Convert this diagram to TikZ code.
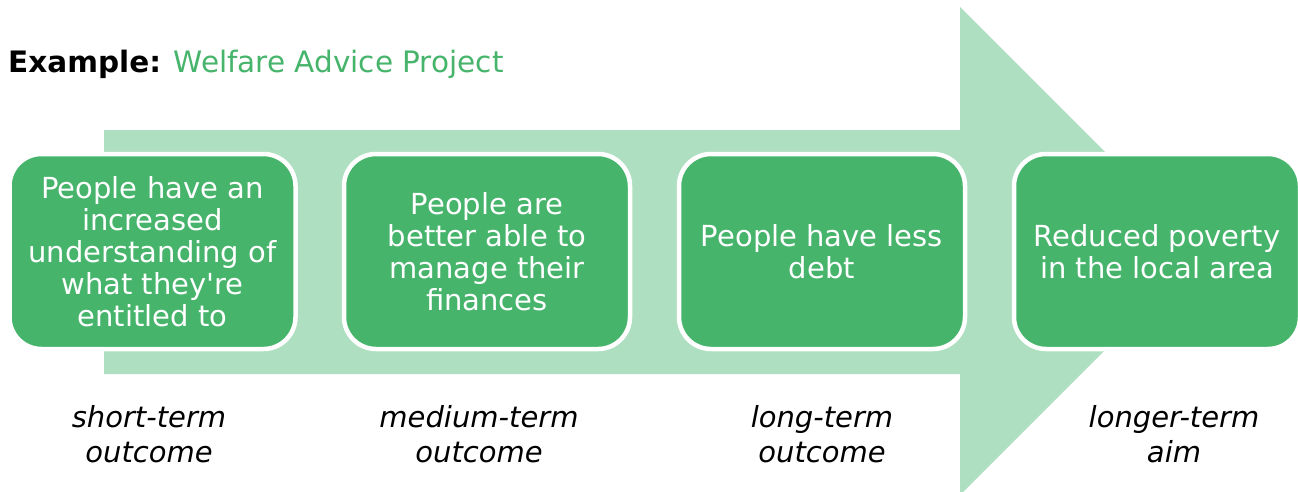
\documentclass[tikz,border=0pt]{standalone}
\usepackage{fontspec}
\setmainfont{DejaVu Sans}
\definecolor{arrowgreen}{RGB}{174,223,192}
\definecolor{boxgreen}{RGB}{71,180,108}
\begin{document}
\begin{tikzpicture}[x=1pt,y=-1pt,
  outbox/.style={rectangle, rounded corners=32pt, fill=boxgreen, draw=white, line width=4.5pt,
    minimum width=286pt, minimum height=195pt, text=white, align=center, inner sep=0pt,
    font=\fontsize{29}{32}\selectfont},
  termlabel/.style={align=center, inner sep=0pt, font=\fontsize{29}{35}\selectfont\itshape}]
\useasboundingbox (0,0) rectangle (1298,491);
\fill[white] (0,0) rectangle (1298,491);
% big arrow
\fill[arrowgreen] (104,130) -- (960,130) -- (960,7) -- (1204,251) -- (960,495) -- (960,374) -- (104,374) -- cycle;
% title
\node[anchor=base west, inner sep=0pt, font=\fontsize{29.5}{32}\selectfont] (title) at (8,72)
  {\textbf{Example:} \textcolor{boxgreen}{Welfare Advice Project}};
% boxes
\node[outbox] (b1) at (152.5,251.5) {People have an\\increased\\understanding of\\what they\textquotesingle re\\entitled to};
\node[outbox] (b2) at (487,251.5) {People are\\better able to\\manage their\\finances};
\node[outbox] (b3) at (822,251.5) {People have less\\debt};
\node[outbox] (b4) at (1157,251.5) {Reduced poverty\\in the local area};
% labels
\node[termlabel] (l1) at (149,434) {short-term\\outcome};
\node[termlabel] (l2) at (479,434) {medium-term\\outcome};
\node[termlabel] (l3) at (822,434) {long-term\\outcome};
\node[termlabel] (l4) at (1174,434) {longer-term\\aim};
\end{tikzpicture}
\end{document}
